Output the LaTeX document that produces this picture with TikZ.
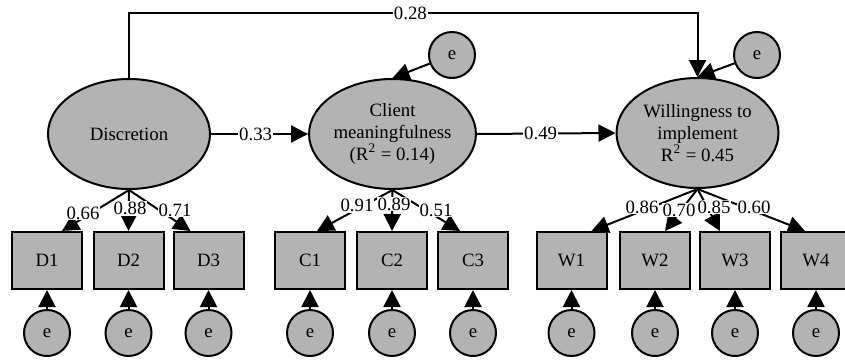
\documentclass[tikz,border=0pt]{standalone}
\usepackage{fontspec}
\setmainfont{Liberation Serif}
\usetikzlibrary{arrows.meta,shapes.geometric}
\definecolor{semgray}{HTML}{B3B3B3}
\begin{document}
\begin{tikzpicture}[x=0.5pt,y=-0.5pt,
  every node/.style={font=\fontsize{9.4pt}{11pt}\selectfont},
  latent/.style={ellipse,draw,line width=1pt,fill=semgray,minimum width=81pt,minimum height=55pt,inner sep=0pt,align=center},
  obs/.style={rectangle,draw,line width=1pt,fill=semgray,minimum width=35pt,minimum height=28.5pt,inner sep=0pt},
  err/.style={circle,draw,line width=1pt,fill=semgray,minimum size=23pt,inner sep=0pt},
  arr/.style={line width=1pt,-{Triangle[length=8.5pt,width=8.5pt]}},
  lbl/.style={fill=white,inner sep=0.5pt}]
\useasboundingbox (0,0) rectangle (845,360);
% latent variables
\node[latent] (dis) at (129,134) {Discretion};
\node[latent] (cm) at (392.5,134) {Client\\meaningfulness\\(R\textsuperscript{2} = 0.14)};
\node[latent] (wil) at (697.5,133) {Willingness to\\implement\\R\textsuperscript{2} = 0.45};
% disturbance terms
\node[err] (ecm) at (452,55) {e};
\node[err] (ewil) at (757,55) {e};
% indicators
\foreach \n/\x in {d1/47,d2/128.5,d3/208.5,c1/310,c2/392,c3/473,w1/571.5,w2/655,w3/735,w4/816}{
  \node[err] (e\n) at (\x,333) {e};
}
\node[obs] (d1) at (47,260.5) {D1};
\node[obs] (d2) at (128.5,260.5) {D2};
\node[obs] (d3) at (208.5,260.5) {D3};
\node[obs] (c1) at (310,260.5) {C1};
\node[obs] (c2) at (392,260.5) {C2};
\node[obs] (c3) at (473,260.5) {C3};
\node[obs] (w1) at (571.5,260.5) {W1};
\node[obs] (w2) at (655,260.5) {W2};
\node[obs] (w3) at (735,260.5) {W3};
\node[obs] (w4) at (816,260.5) {W4};
\foreach \n in {d1,d2,d3,c1,c2,c3,w1,w2,w3,w4}{
  \draw[arr] (e\n.north) -- (\n.south);
}
% structural paths
\coordinate (tl) at (129,13);
\coordinate (tr) at (697.5,13);
\draw[arr] (dis.north) -- (tl) -- node[lbl,pos=0.495]{0.28} (tr) -- (wil.north);
\draw[arr] (dis.east) -- node[lbl,pos=0.46]{0.33} (cm.west);
\draw[arr] (cm.east) -- node[lbl,pos=0.46]{0.49} (wil.west);
\draw[arr] (ecm) -- (cm.north);
\draw[arr] (ewil) -- (wil.north);
% loadings
\draw[arr] (dis.south) -- ([xshift=7.5pt]d1.north);
\draw[arr] (dis.south) -- (d2.north);
\draw[arr] (dis.south) -- ([xshift=-9pt]d3.north);
\draw[arr] (cm.south) -- ([xshift=3.5pt]c1.north);
\draw[arr] (cm.south) -- (c2.north);
\draw[arr] (cm.south) -- ([xshift=-6.5pt]c3.north);
\draw[arr] (wil.south) -- ([xshift=10pt]w1.north);
\draw[arr] (wil.south) -- ([xshift=5pt]w2.north);
\draw[arr] (wil.south) -- ([xshift=-7.5pt]w3.north);
\draw[arr] (wil.south) -- ([xshift=-5.5pt]w4.north);
% loading labels
\node[lbl] (l1) at (83,213) {0.66};
\node[lbl] (l2) at (130,208.5) {0.88};
\node[lbl] (l3) at (175,210) {0.71};
\node[lbl] (l4) at (357,205.5) {0.91};
\node[lbl] (l5) at (394,204) {0.89};
\node[lbl] (l6) at (436,210) {0.51};
\node[lbl] (l7) at (642,207) {0.86};
\node[lbl] (l8) at (679,210) {0.70};
\node[lbl] (l9) at (714,207) {0.85};
\node[lbl] (l10) at (754,207) {0.60};
\end{tikzpicture}
\end{document}
